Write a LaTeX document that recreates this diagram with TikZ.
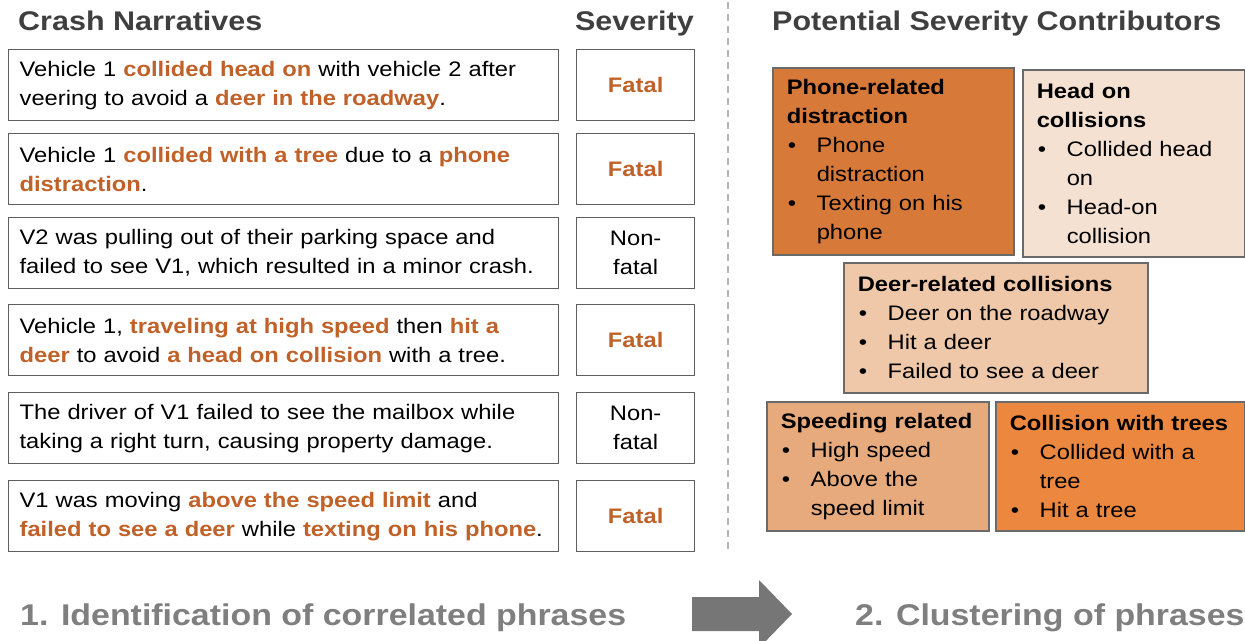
\documentclass[tikz,border=0pt]{standalone}
\usepackage{fontspec}
\setmainfont{Liberation Sans}[FakeStretch=1.13]

\definecolor{hlc}{HTML}{BF6128}
\definecolor{headgray}{HTML}{3F3F3F}
\definecolor{stepgray}{HTML}{7F7F7F}
\definecolor{arrowgray}{HTML}{767676}
\definecolor{framegray}{HTML}{5F5F5F}
\definecolor{clusframe}{HTML}{6A6A6A}
\definecolor{divgray}{HTML}{B4B4B4}
\definecolor{cphone}{HTML}{D67939}
\definecolor{chead}{HTML}{F5E1D2}
\definecolor{cdeer}{HTML}{EEC8A8}
\definecolor{cspeed}{HTML}{E6AA7D}
\definecolor{ctree}{HTML}{EC8740}

\newcommand\bodyfont{\fontsize{21}{29}\selectfont}
\newcommand\hl[1]{\textcolor{hlc}{\textbf{#1}}}
\newcommand\ctitle[1]{\mbox{\textbf{#1}}}
\newcommand\bitem[1]{\mbox{\makebox[30pt][l]{\hspace{1pt}•}#1}}
\newcommand\bcont[1]{\mbox{\makebox[30pt][l]{}#1}}

\tikzset{
  narr/.style={draw=framegray, line width=1.3pt, anchor=north west,
    minimum height=71, text width=528, inner xsep=11, inner ysep=0,
    align=left, font=\bodyfont},
  sev/.style={draw=framegray, line width=1.3pt, anchor=north west,
    minimum width=118, minimum height=71, inner sep=0,
    align=center, font=\bodyfont},
  clus/.style={draw=clusframe, line width=1.5pt, anchor=north west,
    inner xsep=14, inner ysep=0, align=left, font=\bodyfont},
  head/.style={text=headgray, inner sep=0,
    font=\fontsize{27}{31}\selectfont\bfseries},
  steptext/.style={text=stepgray, inner sep=0,
    font=\fontsize{30}{34}\selectfont\bfseries},
  divider/.style={divgray, line width=2pt, dash pattern=on 7pt off 5pt},
}

\begin{document}
\begin{tikzpicture}[x=1pt, y=-1pt]
  \useasboundingbox (0,0) rectangle (1245,640);

  % column headings
  \node[head, anchor=base west] (hn) at (18,30) {Crash Narratives};
  \node[head, anchor=base east] (hs) at (694,30) {Severity};
  \node[head, anchor=base west] (hp) at (772,30) {Potential Severity Contributors};

  % crash narratives
  \node[narr] (n1) at (8,49) {Vehicle 1 \hl{collided head on} with vehicle 2 after\\
    veering to avoid a \hl{deer in the roadway}.};
  \node[narr] (n2) at (8,133) {Vehicle 1 \hl{collided with a tree} due to a \hl{phone}\\
    \hl{distraction}.};
  \node[narr] (n3) at (8,217) {V2 was pulling out of their parking space and\\
    failed to see V1, which resulted in a minor crash.};
  \node[narr] (n4) at (8,304) {Vehicle 1, \hl{traveling at high speed} then \hl{hit a}\\
    \hl{deer} to avoid \hl{a head on collision} with a tree.};
  \node[narr] (n5) at (8,392) {The driver of V1 failed to see the mailbox while\\
    taking a right turn, causing property damage.};
  \node[narr] (n6) at (8,480) {V1 was moving \hl{above the speed limit} and\\
    \hl{failed to see a deer} while \hl{texting on his phone}.};

  % severity labels
  \node[sev] (s1) at (576,49) {\hl{Fatal}};
  \node[sev] (s2) at (576,133) {\hl{Fatal}};
  \node[sev] (s3) at (576,217) {Non-\\fatal};
  \node[sev] (s4) at (576,304) {\hl{Fatal}};
  \node[sev] (s5) at (576,392) {Non-\\fatal};
  \node[sev] (s6) at (576,480) {\hl{Fatal}};

  % separator between the two stages
  \coordinate (dtop) at (728,2);
  \coordinate (dbot) at (728,549);
  \draw[divider] (dtop) -- (dbot);

  % clusters of phrases
  \node[clus, fill=cphone, text width=213, minimum height=187] (c1) at (772,67)
    {\ctitle{Phone-related}\\ \ctitle{distraction}\\
     \bitem{Phone}\\ \bcont{distraction}\\
     \bitem{Texting on his}\\ \bcont{phone}};
  \node[clus, fill=chead, text width=194, minimum height=187] (c2) at (1022,69)
    {\ctitle{Head on}\\ \ctitle{collisions}\\
     \bitem{Collided head}\\ \bcont{on}\\
     \bitem{Head-on}\\ \bcont{collision}};
  \node[clus, fill=cdeer, text width=276, minimum height=130] (c3) at (843,262)
    {\ctitle{Deer-related collisions}\\
     \bitem{Deer on the roadway}\\
     \bitem{Hit a deer}\\
     \bitem{Failed to see a deer}};
  \node[clus, fill=cspeed, text width=194, minimum height=129] (c4) at (766,401)
    {\ctitle{Speeding related}\\
     \bitem{High speed}\\
     \bitem{Above the}\\ \bcont{speed limit}};
  \node[clus, fill=ctree, text width=221, minimum height=129] (c5) at (995,401)
    {\ctitle{Collision with trees}\\
     \bitem{Collided with a}\\ \bcont{tree}\\
     \bitem{Hit a tree}};

  % stage labels and block arrow
  \node[steptext, anchor=base west] (st1) at (20,625) {1. Identification of correlated phrases};
  \node[steptext, anchor=base west] (st2) at (855,625) {2. Clustering of phrases};
  \fill[arrowgray] (692,597) -- (759,597) -- (759,580) -- (792,614)
    -- (759,648) -- (759,631) -- (692,631) -- cycle;
\end{tikzpicture}
\end{document}
